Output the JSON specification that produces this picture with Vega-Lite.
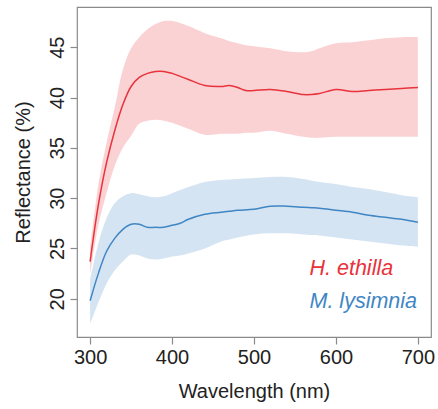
{
  "$schema": "https://vega.github.io/schema/vega-lite/v6.json",
  "autosize": {"type": "none"},
  "width": 354,
  "height": 330,
  "padding": {"left": 77, "top": 7, "right": 7, "bottom": 72},
  "background": "white",
  "config": {
    "font": "Liberation Sans",
    "view": {"stroke": "#8a8a8a", "strokeWidth": 1.2},
    "axis": {"grid": false, "domain": false, "tickColor": "#8a8a8a", "tickSize": 7, "tickWidth": 1.2, "labelFont": "Liberation Sans", "titleFont": "Liberation Sans", "labelFontSize": 20, "titleFontSize": 20, "labelColor": "#222222", "titleColor": "#222222", "titleFontWeight": "normal"}
  },
  "datasets": {
    "spectra": [
      {"species": "H. ethilla", "wl": 300, "mean": 23.7, "lo": 22.4, "hi": 25.0},
      {"species": "H. ethilla", "wl": 310, "mean": 29.3, "lo": 27.3, "hi": 31.3},
      {"species": "H. ethilla", "wl": 320, "mean": 33.5, "lo": 30.5, "hi": 35.5},
      {"species": "H. ethilla", "wl": 330, "mean": 36.7, "lo": 33.2, "hi": 39.0},
      {"species": "H. ethilla", "wl": 340, "mean": 39.3, "lo": 35.0, "hi": 42.8},
      {"species": "H. ethilla", "wl": 350, "mean": 41.1, "lo": 36.2, "hi": 44.9},
      {"species": "H. ethilla", "wl": 360, "mean": 42.0, "lo": 37.4, "hi": 46.0},
      {"species": "H. ethilla", "wl": 370, "mean": 42.4, "lo": 37.7, "hi": 46.8},
      {"species": "H. ethilla", "wl": 380, "mean": 42.6, "lo": 37.8, "hi": 47.3},
      {"species": "H. ethilla", "wl": 390, "mean": 42.6, "lo": 37.7, "hi": 47.6},
      {"species": "H. ethilla", "wl": 400, "mean": 42.4, "lo": 37.5, "hi": 47.6},
      {"species": "H. ethilla", "wl": 410, "mean": 42.1, "lo": 37.2, "hi": 47.4},
      {"species": "H. ethilla", "wl": 420, "mean": 41.8, "lo": 36.9, "hi": 47.1},
      {"species": "H. ethilla", "wl": 440, "mean": 41.2, "lo": 36.3, "hi": 46.4},
      {"species": "H. ethilla", "wl": 460, "mean": 41.1, "lo": 36.4, "hi": 45.9},
      {"species": "H. ethilla", "wl": 470, "mean": 41.2, "lo": 36.4, "hi": 45.6},
      {"species": "H. ethilla", "wl": 480, "mean": 41.0, "lo": 36.4, "hi": 45.4},
      {"species": "H. ethilla", "wl": 490, "mean": 40.7, "lo": 36.5, "hi": 45.2},
      {"species": "H. ethilla", "wl": 500, "mean": 40.7, "lo": 36.5, "hi": 45.1},
      {"species": "H. ethilla", "wl": 520, "mean": 40.8, "lo": 36.7, "hi": 44.9},
      {"species": "H. ethilla", "wl": 540, "mean": 40.6, "lo": 36.4, "hi": 44.6},
      {"species": "H. ethilla", "wl": 560, "mean": 40.3, "lo": 36.1, "hi": 44.5},
      {"species": "H. ethilla", "wl": 570, "mean": 40.3, "lo": 36.0, "hi": 44.6},
      {"species": "H. ethilla", "wl": 580, "mean": 40.4, "lo": 36.0, "hi": 44.9},
      {"species": "H. ethilla", "wl": 600, "mean": 40.8, "lo": 36.1, "hi": 45.4},
      {"species": "H. ethilla", "wl": 620, "mean": 40.6, "lo": 36.1, "hi": 45.5},
      {"species": "H. ethilla", "wl": 640, "mean": 40.7, "lo": 36.1, "hi": 45.7},
      {"species": "H. ethilla", "wl": 660, "mean": 40.8, "lo": 36.1, "hi": 45.9},
      {"species": "H. ethilla", "wl": 680, "mean": 40.9, "lo": 36.1, "hi": 46.0},
      {"species": "H. ethilla", "wl": 700, "mean": 41.0, "lo": 36.1, "hi": 46.0},
      {"species": "M. lysimnia", "wl": 300, "mean": 19.8, "lo": 17.5, "hi": 21.9},
      {"species": "M. lysimnia", "wl": 310, "mean": 22.5, "lo": 19.6, "hi": 25.5},
      {"species": "M. lysimnia", "wl": 320, "mean": 24.7, "lo": 21.5, "hi": 28.0},
      {"species": "M. lysimnia", "wl": 330, "mean": 26.0, "lo": 22.8, "hi": 29.5},
      {"species": "M. lysimnia", "wl": 340, "mean": 26.9, "lo": 23.7, "hi": 30.2},
      {"species": "M. lysimnia", "wl": 350, "mean": 27.4, "lo": 24.4, "hi": 30.5},
      {"species": "M. lysimnia", "wl": 360, "mean": 27.4, "lo": 24.3, "hi": 30.4},
      {"species": "M. lysimnia", "wl": 370, "mean": 27.1, "lo": 24.0, "hi": 30.2},
      {"species": "M. lysimnia", "wl": 380, "mean": 27.1, "lo": 23.9, "hi": 30.1},
      {"species": "M. lysimnia", "wl": 390, "mean": 27.1, "lo": 24.0, "hi": 30.2},
      {"species": "M. lysimnia", "wl": 400, "mean": 27.3, "lo": 24.2, "hi": 30.5},
      {"species": "M. lysimnia", "wl": 410, "mean": 27.5, "lo": 24.3, "hi": 30.8},
      {"species": "M. lysimnia", "wl": 420, "mean": 27.9, "lo": 24.5, "hi": 31.1},
      {"species": "M. lysimnia", "wl": 440, "mean": 28.4, "lo": 25.0, "hi": 31.6},
      {"species": "M. lysimnia", "wl": 460, "mean": 28.6, "lo": 25.7, "hi": 31.8},
      {"species": "M. lysimnia", "wl": 470, "mean": 28.7, "lo": 25.9, "hi": 31.85},
      {"species": "M. lysimnia", "wl": 480, "mean": 28.8, "lo": 26.1, "hi": 31.9},
      {"species": "M. lysimnia", "wl": 500, "mean": 28.9, "lo": 26.4, "hi": 32.0},
      {"species": "M. lysimnia", "wl": 520, "mean": 29.2, "lo": 26.5, "hi": 32.1},
      {"species": "M. lysimnia", "wl": 540, "mean": 29.2, "lo": 26.5, "hi": 32.1},
      {"species": "M. lysimnia", "wl": 560, "mean": 29.1, "lo": 26.4, "hi": 31.9},
      {"species": "M. lysimnia", "wl": 570, "mean": 29.05, "lo": 26.35, "hi": 31.75},
      {"species": "M. lysimnia", "wl": 580, "mean": 29.0, "lo": 26.3, "hi": 31.6},
      {"species": "M. lysimnia", "wl": 600, "mean": 28.8, "lo": 26.1, "hi": 31.4},
      {"species": "M. lysimnia", "wl": 620, "mean": 28.6, "lo": 25.9, "hi": 31.1},
      {"species": "M. lysimnia", "wl": 640, "mean": 28.3, "lo": 25.7, "hi": 30.9},
      {"species": "M. lysimnia", "wl": 660, "mean": 28.1, "lo": 25.5, "hi": 30.6},
      {"species": "M. lysimnia", "wl": 680, "mean": 27.9, "lo": 25.3, "hi": 30.3},
      {"species": "M. lysimnia", "wl": 700, "mean": 27.6, "lo": 25.2, "hi": 30.1}
    ]
  },
  "data": {"name": "spectra"},
  "encoding": {
    "x": {"field": "wl", "type": "quantitative", "title": "Wavelength (nm)",
      "scale": {"domain": [284, 716], "nice": false, "zero": false},
      "axis": {"values": [300, 400, 500, 600, 700], "labelPadding": 3, "titlePadding": 14}},
    "color": {"field": "species", "type": "nominal",
      "scale": {"domain": ["H. ethilla", "M. lysimnia"], "range": ["#E8323C", "#3F86C4"]},
      "legend": {"title": null, "orient": "none", "legendX": 211, "legendY": 251,
        "labelFontSize": 21.5, "labelFontStyle": "italic", "labelFont": "Liberation Sans",
        "symbolSize": 0, "symbolOpacity": 0, "symbolStrokeWidth": 0, "symbolType": "circle", "labelOffset": 0, "rowPadding": 10.5,
        "labelLimit": 300, "padding": 0,
        "encode": {"labels": {"update": {"fill": {"scale": "color", "field": "value"}}}}}}
  },
  "layer": [
    {
      "mark": {"type": "area", "interpolate": "catmull-rom", "opacity": 0.22},
      "encoding": {
        "y": {"field": "lo", "type": "quantitative", "title": "Reflectance (%)",
          "scale": {"domain": [16.2, 49.0], "nice": false, "zero": false},
          "axis": {"values": [20, 25, 30, 35, 40, 45], "labelAngle": 270, "labelPadding": 3, "titlePadding": 14}},
        "y2": {"field": "hi"}
      }
    },
    {
      "mark": {"type": "line", "interpolate": "catmull-rom", "strokeWidth": 1.5},
      "encoding": {
        "y": {"field": "mean", "type": "quantitative"}
      }
    }
  ]
}
